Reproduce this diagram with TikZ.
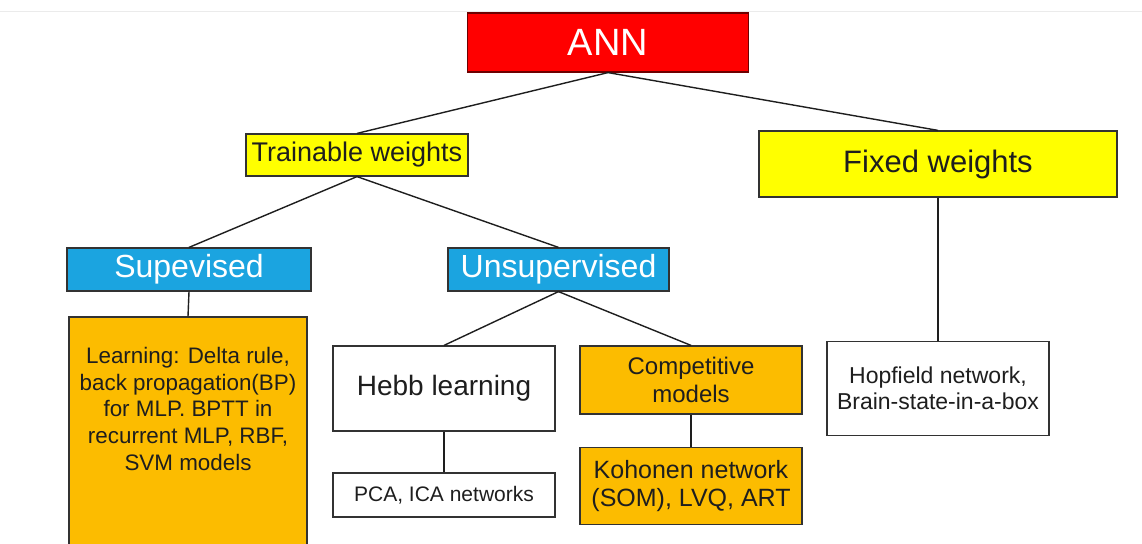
\documentclass[tikz,border=0pt]{standalone}
\usepackage{fontspec}
\setmainfont{Liberation Sans}
\definecolor{annred}{RGB}{255,0,0}
\definecolor{darkred}{RGB}{110,0,0}
\definecolor{wyellow}{RGB}{255,255,0}
\definecolor{lblue}{RGB}{27,164,224}
\definecolor{lorange}{RGB}{252,188,0}
\definecolor{boxline}{RGB}{50,50,50}
\definecolor{txt}{RGB}{30,30,30}

\begin{document}
\begin{tikzpicture}[x=1pt, y=-1pt,
    box/.style={draw=boxline, line width=1.2pt, rectangle, inner sep=0pt, align=center, text=txt},
    yellowbox/.style={box, fill=wyellow},
    bluebox/.style={box, fill=lblue, text=white},
    orangebox/.style={box, fill=lorange},
    whitebox/.style={box, fill=white},
    link/.style={draw=txt, line width=1.4pt}]
      \useasboundingbox (0,0) rectangle (1142,543);
      \clip (0,0) rectangle (1142,543);
      \fill[white] (0,0) rectangle (1142,543);
      \draw[black!8, line width=1pt] (0,12) -- (1142,12);

      \node[box, fill=annred, draw=darkred, text=white, minimum width=281, minimum height=59,
            font=\fontsize{38}{44}\selectfont] (ann) at (608,42.5) {ANN};

      \node[yellowbox, minimum width=222, minimum height=42,
            font=\fontsize{27}{32}\selectfont] (train) at (357,155) {Trainable weights};
      \node[yellowbox, minimum width=358, minimum height=66,
            font=\fontsize{31}{36}\selectfont] (fixed) at (938,164) {Fixed weights};

      \node[bluebox, minimum width=244, minimum height=43,
            font=\fontsize{32}{36}\selectfont] (sup) at (189,269.5) {Supevised};
      \node[bluebox, minimum width=221, minimum height=43,
            font=\fontsize{32}{36}\selectfont] (unsup) at (558.5,269.5) {Unsupervised};

      \node[orangebox, minimum width=238, minimum height=263] (learn) at (188,448.5) {};
      \node[align=center, text=txt, inner sep=0pt, anchor=north,
            font=\fontsize{22.4}{26.7}\selectfont] (learntext) at (188,347)
            {Learning: Delta rule,\\back propagation(BP)\\for MLP. BPTT in\\recurrent MLP, RBF,\\SVM models};

      \node[whitebox, minimum width=222, minimum height=85,
            font=\fontsize{28}{32}\selectfont] (hebb) at (444,388.5) {Hebb learning};
      \node[orangebox, minimum width=222, minimum height=68,
            font=\fontsize{24}{28}\selectfont] (comp) at (691,380) {Competitive\\models};
      \node[whitebox, minimum width=222, minimum height=44,
            font=\fontsize{21}{25}\selectfont] (pca) at (444,495) {PCA, ICA networks};
      \node[orangebox, minimum width=222, minimum height=77,
            font=\fontsize{25}{28.5}\selectfont] (koh) at (691,486) {Kohonen network\\(SOM), LVQ, ART};
      \node[whitebox, minimum width=222, minimum height=94,
            font=\fontsize{23}{25.5}\selectfont] (hop) at (938,388.5) {Hopfield network,\\Brain-state-in-a-box};

      \draw[link] (ann.south) -- (train.north);
      \draw[link] (ann.south) -- (fixed.north);
      \draw[link] (train.south) -- (sup.north);
      \draw[link] (train.south) -- (unsup.north);
      \draw[link] (sup.south) -- (learn.north);
      \draw[link] (unsup.south) -- (hebb.north);
      \draw[link] (unsup.south) -- (comp.north);
      \draw[link] (hebb.south) -- (pca.north);
      \draw[link] (comp.south) -- (koh.north);
      \draw[link] (fixed.south) -- (hop.north);
\end{tikzpicture}
\end{document}
